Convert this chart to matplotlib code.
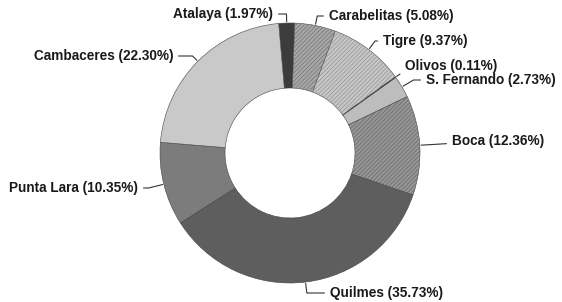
import matplotlib.pyplot as plt
import numpy as np

# data, clockwise from the top
labels = ["Atalaya", "Carabelitas", "Tigre", "Olivos", "S. Fernando",
          "Boca", "Quilmes", "Punta Lara", "Cambaceres"]
shares = [1.97, 5.08, 9.37, 0.11, 2.73, 12.36, 35.73, 10.35, 22.30]

# styling
colors = ["#3c3c3c", "#a8a8a8", "#c8c8c8", "#111111", "#bdbdbd",
          "#979797", "#5e5e5e", "#7c7c7c", "#c9c9c9"]
hatches = [None, "////////", "////////", None, None, "////////", None, None, None]
hatch_colors = ["none", "#7a7a7a", "#9a9a9a", "none", "none",
                "#6e6e6e", "none", "none", "none"]
# label text anchors (figure pixels from top-left) and alignment
label_pos = [(273, 14, "right"), (329, 16, "left"), (383, 41, "left"),
             (405, 66, "left"), (426, 80, "left"), (452, 141, "left"),
             (330, 293, "left"), (138, 188, "right"), (173, 56, "right")]

W, H = 562, 302
plt.rcParams["hatch.linewidth"] = 0.6
fig = plt.figure(figsize=(W / 100, H / 100), dpi=100)
cx, cy, r = 290, 153, 130
ax = fig.add_axes([(cx - r) / W, (H - cy - r) / H, 2 * r / W, 2 * r / H])

wedges, _ = ax.pie(shares, colors=colors, startangle=95, counterclock=False,
                   radius=1, wedgeprops=dict(width=0.5, edgecolor="#444444",
                                             linewidth=0.4))
hw, _ = ax.pie(shares, colors=["none"] * len(shares), startangle=95,
               counterclock=False, radius=1,
               wedgeprops=dict(width=0.5, linewidth=0))
for w, h, hc in zip(hw, hatches, hatch_colors):
    if h:
        w.set_hatch(h)
        w.set_edgecolor(hc)

ax.set_xlim(-1, 1)
ax.set_ylim(-1, 1)
ax.axis("off")

for w, name, val, (tx, ty, ha) in zip(wedges, labels, shares, label_pos):
    mid = np.deg2rad((w.theta1 + w.theta2) / 2)
    px, py = np.cos(mid) * 1.01, np.sin(mid) * 1.01
    ax.annotate(f"{name} ({val:.2f}%)", xy=(px, py),
                xytext=(tx, H - ty), textcoords="figure pixels",
                ha=ha, va="center", fontsize=9.8, fontweight="bold",
                family="Liberation Sans", color="#1a1a1a",
                arrowprops=dict(arrowstyle="-", color="#333333", lw=0.8,
                                shrinkA=2, shrinkB=0,
                                connectionstyle=f"angle,angleA=0,angleB={np.rad2deg(mid):.1f},rad=0"),
                annotation_clip=False)

fig.savefig("out.png", dpi=100)
